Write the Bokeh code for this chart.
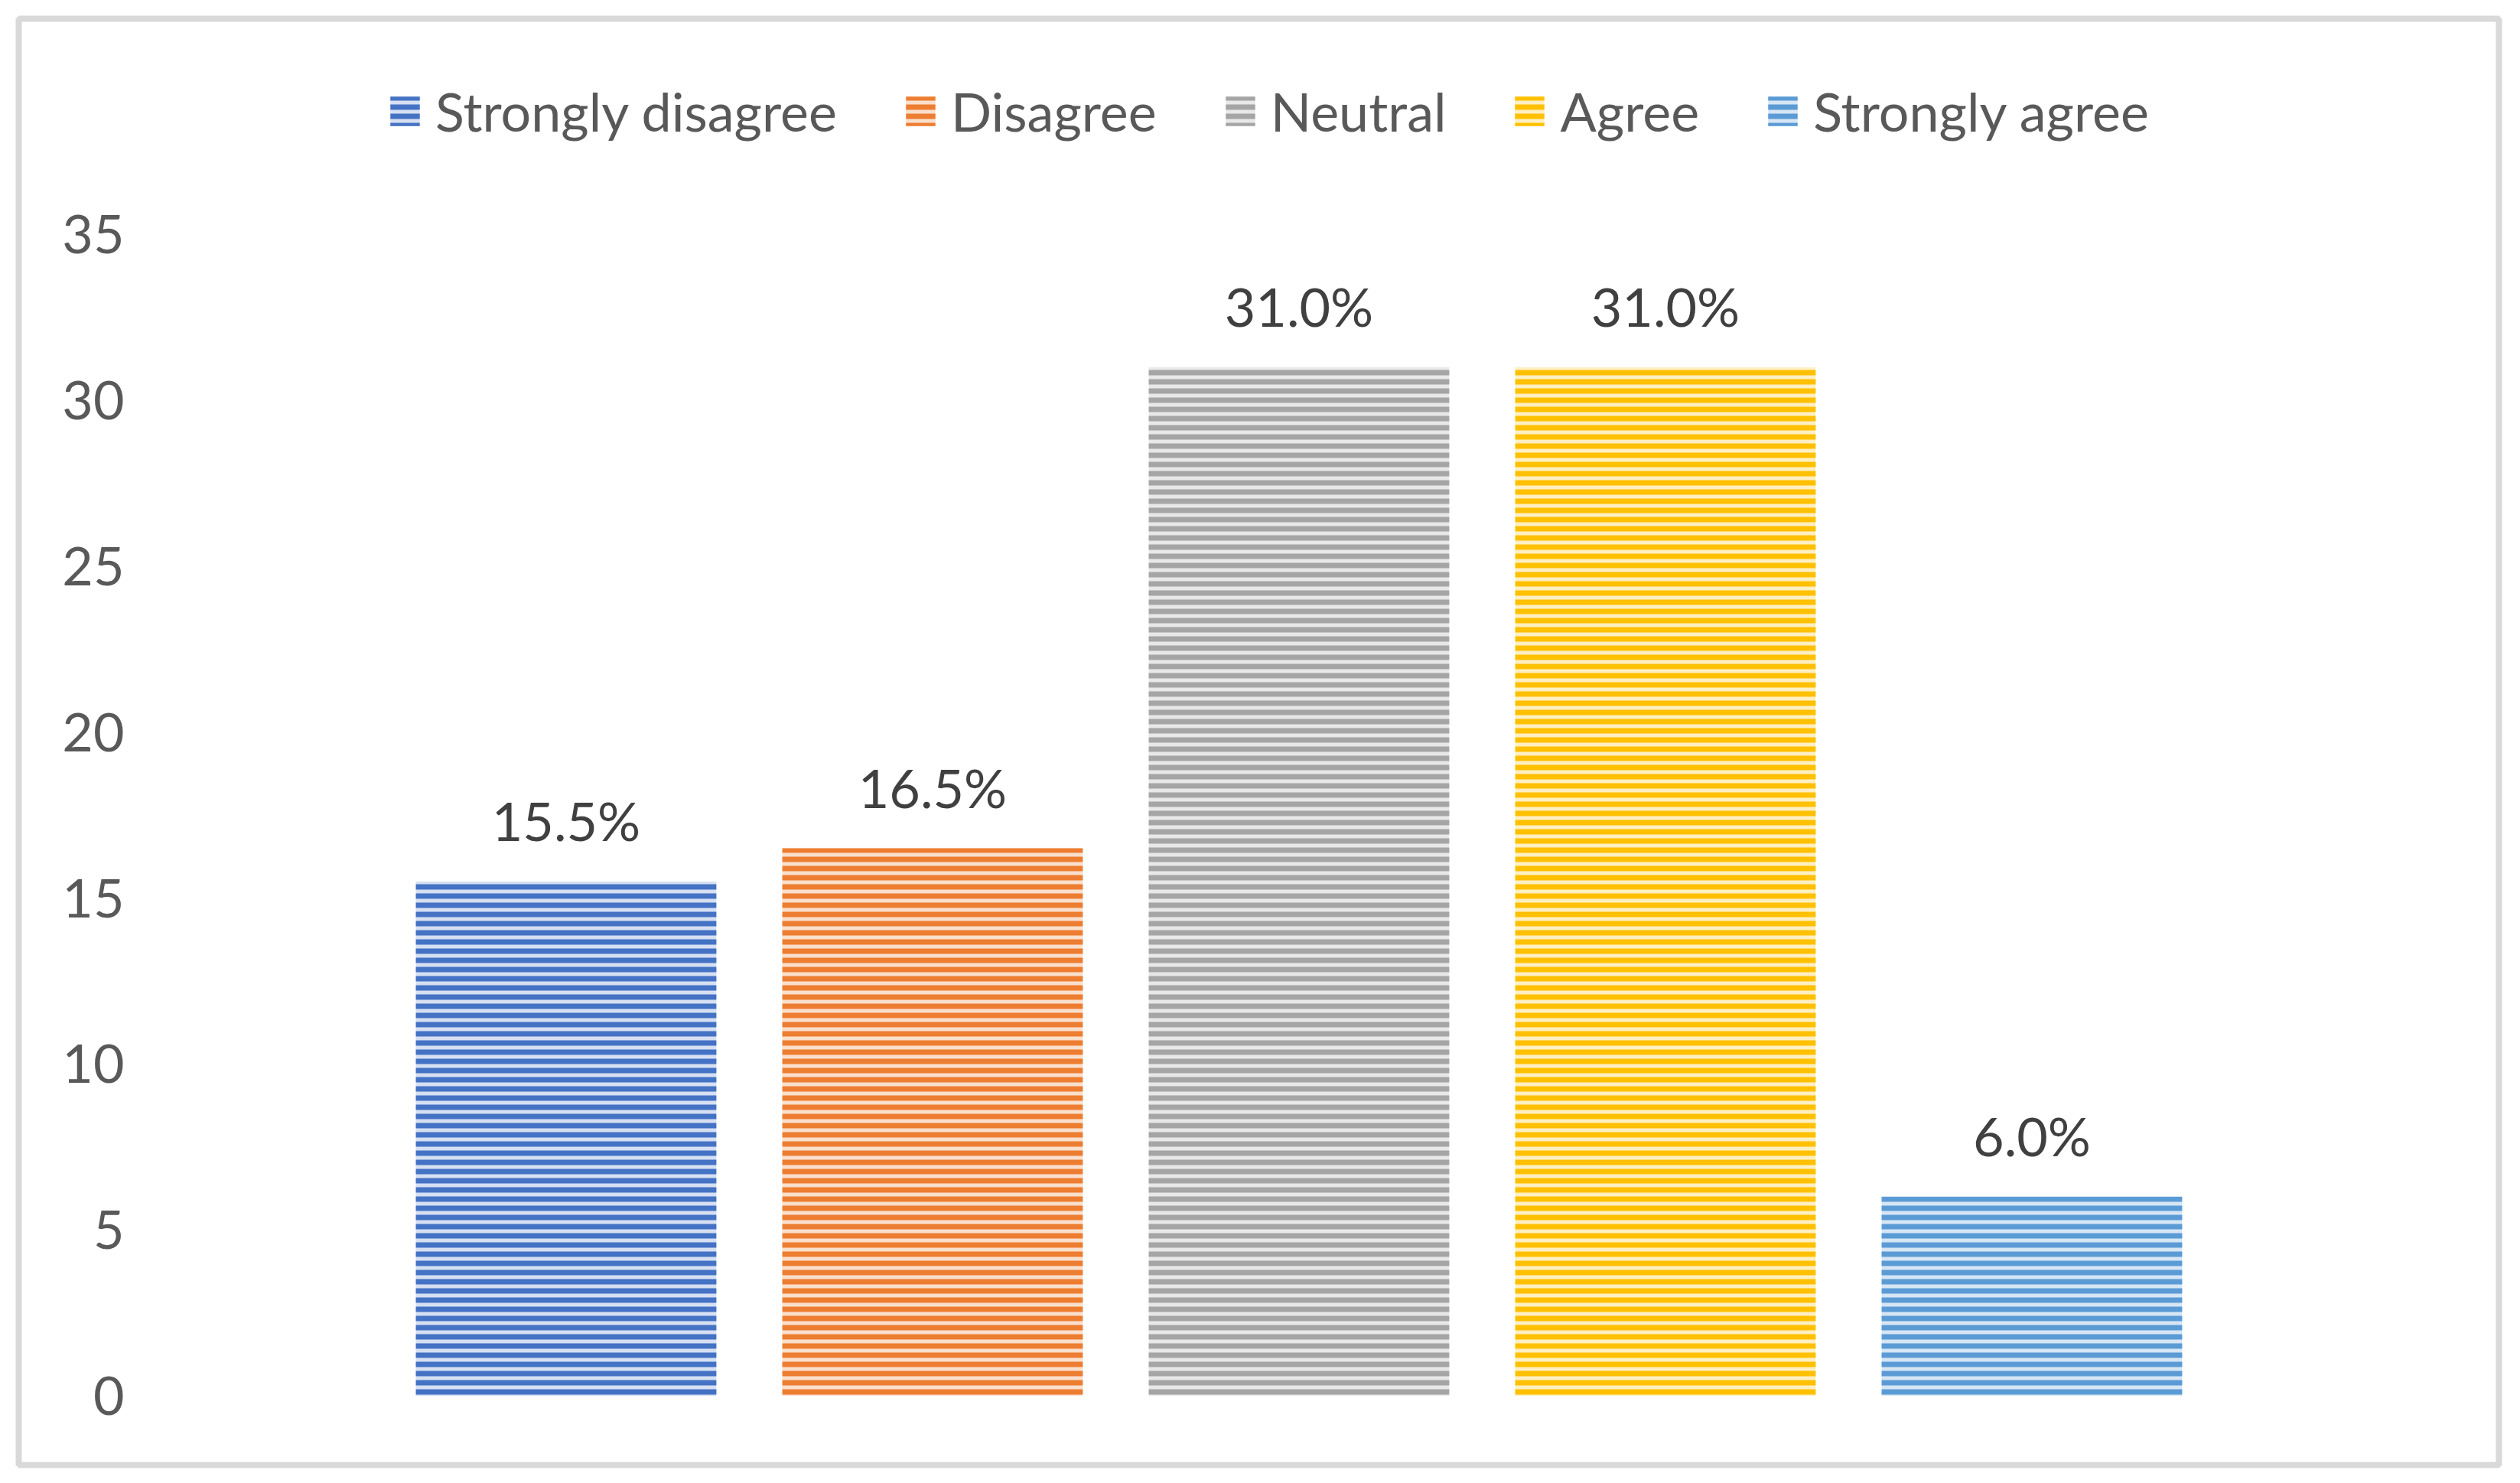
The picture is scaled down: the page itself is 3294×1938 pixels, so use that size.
from bokeh.plotting import figure
from bokeh.models import Range1d, FixedTicker, ColumnDataSource, Legend, LegendItem
from bokeh.core.properties import value
from bokeh.embed import file_html
from bokeh.resources import INLINE

# ---- data ----
categories = ["Strongly disagree", "Disagree", "Neutral", "Agree", "Strongly agree"]
percentages = [15.5, 16.5, 31.0, 31.0, 6.0]
y_ticks = [0, 5, 10, 15, 20, 25, 30, 35]

# ---- styles ----
main_colors = ["#4472C4", "#ED7D31", "#A5A5A5", "#FFC000", "#5B9BD5"]
light_colors = ["#D6E0F2", "#FADFCC", "#E8E8E8", "#FFEFC2", "#D6E6F5"]
FONT = "Lato"
FS = "70px"
W, H = 3282, 1930

src = ColumnDataSource(dict(
    idx=list(range(len(categories))),
    cat=categories,
    val=percentages,
    lab=[f"{v:.1f}%" for v in percentages],
    fill=light_colors,
    hatch=main_colors,
))

p = figure(
    width=W, height=H,
    x_range=Range1d(-1.4937, 5.2746),
    y_range=Range1d(-2.087, 41.504),
    x_axis_location=None,
    output_backend="svg", toolbar_location=None,
    min_border_left=24, min_border_right=W - 3266,
    min_border_top=24, min_border_bottom=H - 1914,
)
p.outline_line_color = "#D9D9D9"
p.outline_line_width = 8
p.xgrid.grid_line_color = None
p.ygrid.grid_line_color = None
p.background_fill_color = "white"
p.border_fill_color = "white"

bars = p.vbar(x="idx", top="val", width=0.82, source=src,
              fill_color="fill", line_color=None,
              hatch_pattern="horizontal_line", hatch_color="hatch",
              hatch_scale=12, hatch_weight=7)

p.text(x="idx", y="val", text="lab", source=src,
       text_align="center", text_baseline="alphabetic", y_offset=-80,
       text_font=value(FONT), text_font_size=FS, text_color="#404040")

ax = p.yaxis[0]
ax.ticker = FixedTicker(ticks=y_ticks)
ax.axis_line_color = None
ax.major_tick_line_color = None
ax.minor_tick_line_color = None
ax.major_tick_out = 0
ax.major_tick_in = 0
ax.major_label_standoff = -138
ax.major_label_text_font = FONT
ax.major_label_text_font_size = FS
ax.major_label_text_color = "#595959"

legend = Legend(
    items=[LegendItem(label=c, renderers=[bars], index=i) for i, c in enumerate(categories)],
    orientation="horizontal",
    location=(481, 1727),
    glyph_width=48, glyph_height=48,
    label_standoff=16, spacing=85, padding=0, margin=0,
    label_text_font=FONT, label_text_font_size=FS, label_text_color="#595959",
    label_height=48, border_line_color=None, background_fill_alpha=0,
)
p.add_layout(legend, "center")

open("out.html", "w").write(file_html(p, INLINE))
